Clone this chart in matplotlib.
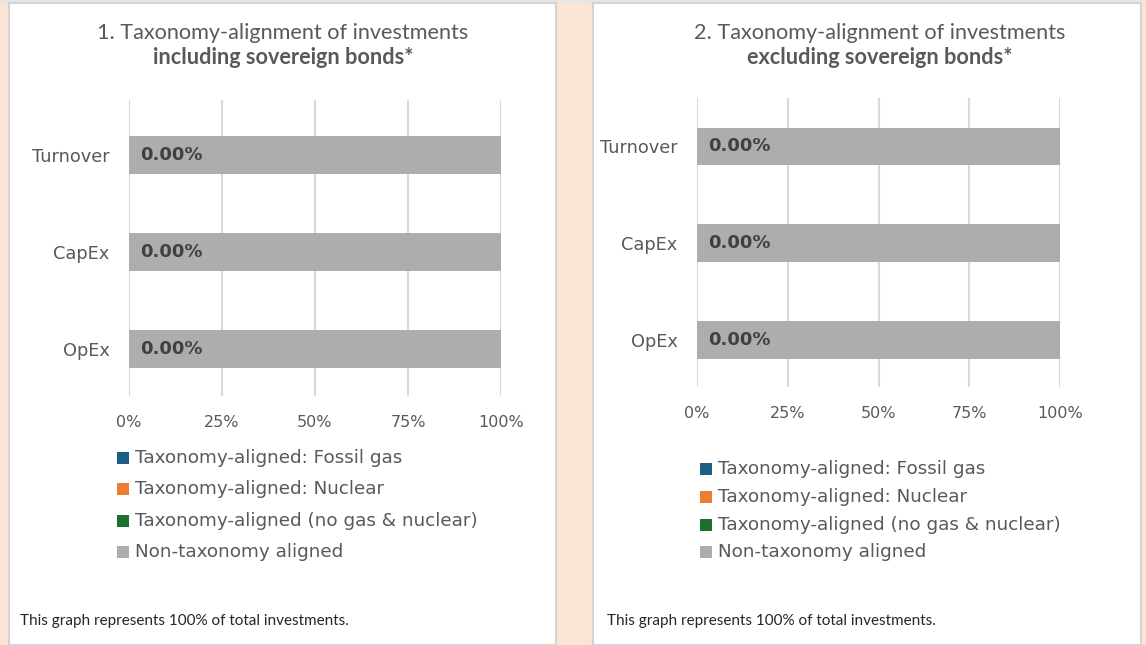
import matplotlib
matplotlib.use("Agg")
import matplotlib.pyplot as plt
from matplotlib.patches import Rectangle
from matplotlib import font_manager

# ---------------- data ----------------
categories = ["Turnover", "CapEx", "OpEx"]
series_names = ["Taxonomy-aligned: Fossil gas",
                "Taxonomy-aligned: Nuclear",
                "Taxonomy-aligned (no gas & nuclear)",
                "Non-taxonomy aligned"]
series_colors = ["#1B5E86", "#ED7D31", "#1E6E2E", "#ADADAD"]
# values in % for chart 1 (including sovereign bonds)
incl_fossil = [0.0, 0.0, 0.0]
incl_nuclear = [0.0, 0.0, 0.0]
incl_green = [0.0, 0.0, 0.0]
incl_non = [100.0, 100.0, 100.0]
# values in % for chart 2 (excluding sovereign bonds)
excl_fossil = [0.0, 0.0, 0.0]
excl_nuclear = [0.0, 0.0, 0.0]
excl_green = [0.0, 0.0, 0.0]
excl_non = [100.0, 100.0, 100.0]
label_values = ["0.00%", "0.00%", "0.00%"]
x_ticks = [0, 25, 50, 75, 100]
x_tick_labels = ["0%", "25%", "50%", "75%", "100%"]
titles_line1 = ["1. Taxonomy-alignment of investments", "2. Taxonomy-alignment of investments"]
titles_line2 = ["including sovereign bonds*", "excluding sovereign bonds*"]
footnote = "This graph represents 100% of total investments."

# ---------------- fonts ----------------
avail = {f.name for f in font_manager.fontManager.ttflist}
def pick(*names):
    for n in names:
        if n in avail:
            return n
    return "DejaVu Sans"
F_MAIN = pick("DejaVu Sans")
F_TITLE = pick("Lato", "Open Sans", "DejaVu Sans")
F_NOTE = pick("Liberation Sans Narrow", "Lato", "DejaVu Sans")

W, H = 1146, 645
fig = plt.figure(figsize=(W / 100, H / 100), dpi=100)
fig.patch.set_facecolor("#FCE4D6")

def fx(x): return x / W
def fy(y): return 1 - y / H

# top gray strip
fig.patches.append(Rectangle((0, fy(3)), 1, 3 / H, transform=fig.transFigure,
                             facecolor="#E6E6E6", edgecolor="none", zorder=-2))
# panels
for (x0, x1) in [(9, 556), (593, 1141)]:
    fig.patches.append(Rectangle((fx(x0), 0), fx(x1 - x0), fy(3), transform=fig.transFigure,
                                 facecolor="white", edgecolor="#D4D4D4", linewidth=1.5,
                                 zorder=-1))

TXT = "#595959"
panels = [
    dict(data=[incl_fossil, incl_nuclear, incl_green, incl_non],
         ax=(129, 501, 100, 396), ylim=(2.485, -0.567), title_cx=283, t1=33, t2=58,
         leg_x=117, leg_y=[458, 489, 521, 552], note_x=20),
    dict(data=[excl_fossil, excl_nuclear, excl_green, excl_non],
         ax=(697, 1060, 98, 387), ylim=(2.485, -0.5), title_cx=880, t1=33, t2=58,
         leg_x=700, leg_y=[469, 497, 525, 552], note_x=607),
]

for i, p in enumerate(panels):
    x0, x1, y0, y1 = p["ax"]
    ax = fig.add_axes([fx(x0), fy(y1), fx(x1 - x0), (y1 - y0) / H], zorder=2)
    ax.set_facecolor("none")
    ypos = list(range(len(categories)))
    left = [0.0] * len(categories)
    for vals, col, name in zip(p["data"], series_colors, series_names):
        ax.barh(ypos, vals, left=left, height=0.39, color=col, label=name, zorder=2)
        left = [l + v for l, v in zip(left, vals)]
    # data labels of first series
    for yv, v, lab in zip(ypos, p["data"][0], label_values):
        ax.annotate(lab, xy=(v, yv), xytext=(8, 0), textcoords="offset points",
                    ha="left", va="center", fontsize=13, fontweight="bold",
                    color="#404040", family=F_MAIN, zorder=3)
    ax.set_xlim(0, 100)
    ax.set_ylim(*p["ylim"])
    ax.set_xticks(x_ticks)
    ax.set_xticklabels(x_tick_labels)
    ax.set_yticks(ypos)
    ax.set_yticklabels(categories)
    ax.grid(axis="x", color="#D9D9D9", linewidth=1.5, zorder=0)
    ax.set_axisbelow(True)
    for s in ax.spines.values():
        s.set_visible(False)
    ax.tick_params(axis="both", length=0, colors=TXT)
    ax.tick_params(axis="x", pad=14, labelsize=11.5)
    ax.tick_params(axis="y", pad=14, labelsize=12.8)
    for t in ax.get_xticklabels() + ax.get_yticklabels():
        t.set_family(F_MAIN)
        t.set_color(TXT)

    # titles
    fig.text(fx(p["title_cx"]), fy(p["t1"]), titles_line1[i], ha="center", va="center",
             fontsize=15.6, color=TXT, family=F_TITLE)
    fig.text(fx(p["title_cx"]), fy(p["t2"]), titles_line2[i], ha="center", va="center",
             fontsize=15.6, color=TXT, family=F_TITLE, fontweight="bold")

    # legend (manual)
    for name, col, ly in zip(series_names, series_colors, p["leg_y"]):
        fig.patches.append(Rectangle((fx(p["leg_x"]), fy(ly + 6)), fx(12), 12 / H,
                                     transform=fig.transFigure, facecolor=col,
                                     edgecolor="none"))
        fig.text(fx(p["leg_x"] + 18), fy(ly), name, ha="left", va="center",
                 fontsize=13.2, color=TXT, family=F_MAIN)

    fig.text(fx(p["note_x"]), fy(621), footnote, ha="left", va="center",
             fontsize=11, color="#262626", family=F_NOTE)

fig.savefig("out.png", dpi=100, facecolor=fig.get_facecolor())
